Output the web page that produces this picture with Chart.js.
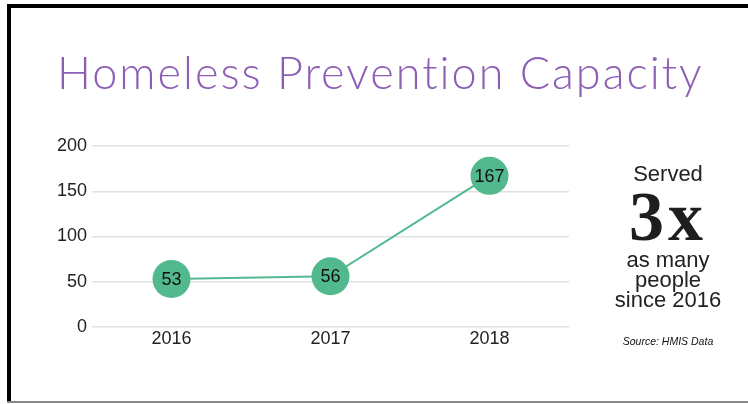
<!DOCTYPE html>
<html>
<head>
<meta charset="utf-8">
<script src="https://cdn.jsdelivr.net/npm/chart.js@4.4.1/dist/chart.umd.min.js"></script>
<style>
  html, body { margin: 0; padding: 0; background: #fff; }
  #page { position: relative; width: 748px; height: 404px; overflow: hidden; background: #fff; }
  #frame-top { position: absolute; left: 7px; top: 4px; width: 741px; height: 4px; background: #000; }
  #frame-left { position: absolute; left: 7px; top: 4px; width: 4px; height: 398px; background: #000; }
  #frame-bottom { position: absolute; left: 7px; top: 401px; width: 741px; height: 2px; background: #888; }
  #chartBox { position: absolute; left: 0; top: 0; width: 748px; height: 404px; }
  .txt { position: absolute; white-space: nowrap; }
  #title { left: 57px; top: 50px; font-family: Lato, sans-serif; font-weight: 300; font-size: 45px; line-height: 44px; letter-spacing: 2px; font-variant-ligatures: none; color: #8d5fb4; }
  .side { left: 608px; width: 120px; text-align: center; font-family: "Liberation Sans", Arial, sans-serif; font-size: 22px; line-height: 20px; color: #222; }
  #big { left: 608px; width: 120px; text-align: center; font-family: "Liberation Serif", serif; font-weight: bold; font-size: 70px; line-height: 70px; letter-spacing: 4px; color: #1e1e1e; }
  #source { left: 608px; width: 120px; text-align: center; font-family: "Liberation Sans", Arial, sans-serif; font-style: italic; font-size: 10.5px; line-height: 12px; color: #111; }
</style>
</head>
<body>
<div id="page">
  <div id="frame-top"></div>
  <div id="frame-left"></div>
  <div id="frame-bottom"></div>
  <div id="chartBox"><canvas id="myChart" width="748" height="404"></canvas></div>
  <div class="txt" id="title">Homeless Prevention Capacity</div>
  <div class="txt side" style="top:164px">Served</div>
  <div class="txt" id="big" style="top:182px">3x</div>
  <div class="txt side" style="top:250px">as many</div>
  <div class="txt side" style="top:270px">people</div>
  <div class="txt side" style="top:290px">since 2016</div>
  <div class="txt" id="source" style="top:335px">Source: HMIS Data</div>
</div>
<script>
// anos e quantidade atendida
const anos = ['2016', '2017', '2018'];
const atendidos = [53, 56, 167];
const ticksY = [0, 50, 100, 150, 200];

const verde = '#52b98f';

// escreve o valor dentro de cada bolinha
const valorNoPonto = {
    id: 'valorNoPonto',
    afterDatasetsDraw(chart) {
        const ctx = chart.ctx;
        const meta = chart.getDatasetMeta(0);
        ctx.save();
        ctx.font = '18px "Liberation Sans", Arial, sans-serif';
        ctx.fillStyle = '#111';
        ctx.textAlign = 'center';
        ctx.textBaseline = 'middle';
        meta.data.forEach((ponto, i) => {
            ctx.fillText(String(atendidos[i]), ponto.x, ponto.y + 1);
        });
        ctx.restore();
    }
};

const initLineChart = () => {
    const ctx = document.getElementById('myChart');
    const data = {
        labels: anos,
        datasets: [{
            label: 'Atendidos',
            data: atendidos,
            borderColor: verde,
            borderWidth: 2,
            backgroundColor: verde,
            pointBackgroundColor: verde,
            pointBorderWidth: 0,
            pointRadius: 19,
            tension: 0
        }]
    };

    new Chart(ctx, {
        type: 'line',
        data: data,
        options: {
            responsive: false,
            animation: false,
            layout: { padding: { top: 146, right: 179, bottom: 37, left: 0 } },
            plugins: {
                legend: { display: false },
                tooltip: { enabled: false }
            },
            scales: {
                x: {
                    offset: true,
                    grid: { display: false, drawTicks: false },
                    border: { display: false },
                    ticks: {
                        padding: 1,
                        color: '#222',
                        font: { family: '"Liberation Sans", Arial, sans-serif', size: 18 }
                    },
                    afterFit(scale) { scale.height = 40; }
                },
                y: {
                    min: 0,
                    max: 200,
                    afterBuildTicks(scale) { scale.ticks = ticksY.map(v => ({ value: v })); },
                    grid: { color: '#e2e2e2', lineWidth: 1.5, drawTicks: false },
                    border: { display: false },
                    ticks: {
                        padding: 5,
                        color: '#222',
                        font: { family: '"Liberation Sans", Arial, sans-serif', size: 18 }
                    },
                    afterFit(scale) { scale.width = 92; }
                }
            }
        },
        plugins: [valorNoPonto]
    });
};

window.onload = () => { initLineChart(); };
</script>
</body>
</html>
